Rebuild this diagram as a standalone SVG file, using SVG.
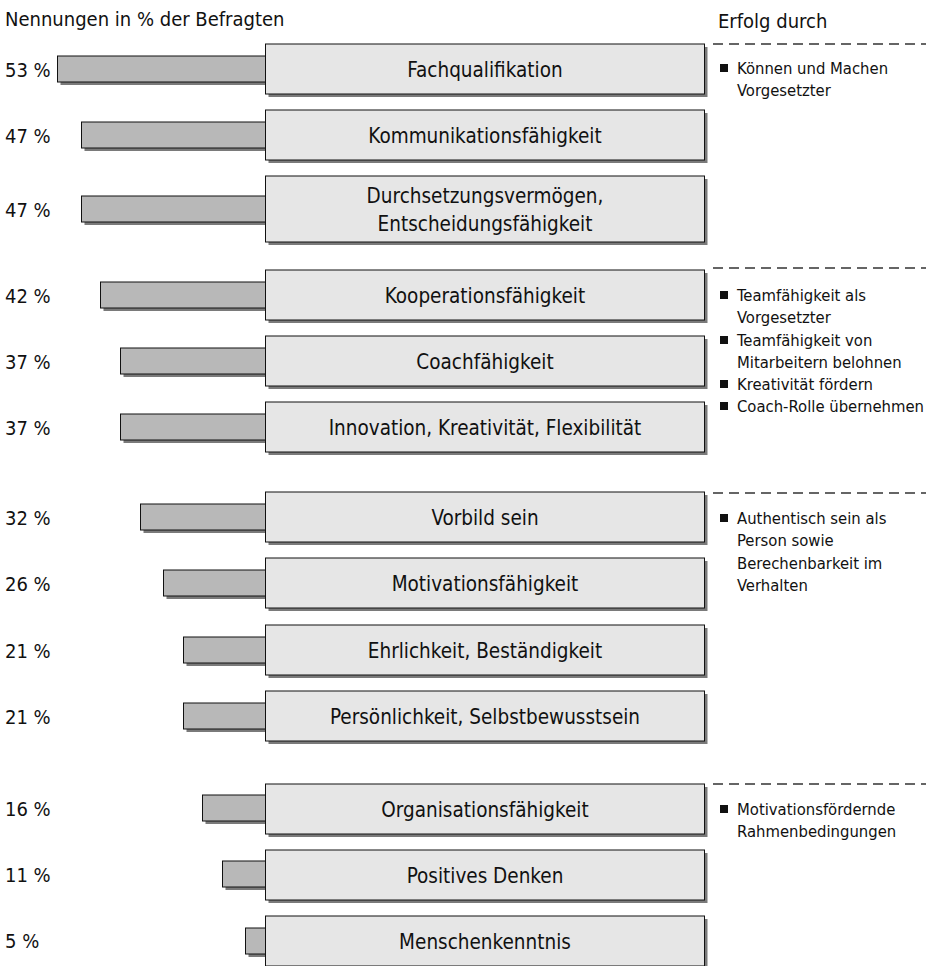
<svg xmlns="http://www.w3.org/2000/svg" width="926" height="966" viewBox="0 0 926 966">
  <style>
    text { font-family: "DejaVu Sans Condensed", "DejaVu Sans", sans-serif; fill: #111; }
    .hdr { font-size: 20px; }
    .pct { font-size: 20px; }
    .lbl { font-size: 20.5px; text-anchor: middle; }
    .note { font-size: 16.5px; }
    .box { fill: #e6e6e6; stroke: #111; stroke-width: 1; }
    .bar { fill: #b8b8b8; stroke: #111; stroke-width: 1; }
    .shd { fill: #7a7a7a; }
    .sep { stroke: #333; stroke-width: 1.5; stroke-dasharray: 10 6; fill: none; }
    .bul { fill: #111; }
  </style>
  <rect width="926" height="966" fill="#ffffff"/>

  <text class="hdr" x="5" y="26">Nennungen in % der Befragten</text>
  <text class="hdr" x="718" y="28">Erfolg durch</text>

  <!-- separators between groups of success factors -->
  <g id="connectors">
    <line class="sep" x1="713" y1="44" x2="926" y2="44"/>
    <line class="sep" x1="713" y1="268" x2="926" y2="268"/>
    <line class="sep" x1="713" y1="493" x2="926" y2="493"/>
    <line class="sep" x1="713" y1="784" x2="926" y2="784"/>
  </g>

  <!-- one row per skill: percentage, bar (3.92 px per %), label box -->
  <g id="n-fachqualifikation">
    <text class="pct" x="5" y="77">53 %</text>
    <rect class="shd" x="60.5" y="59" width="208" height="26"/>
    <rect class="bar" x="57.5" y="56" width="208" height="26"/>
    <rect class="shd" x="268.5" y="47" width="439" height="50"/>
    <rect class="box" x="265.5" y="44" width="439" height="50"/>
    <text class="lbl" x="485" y="77">Fachqualifikation</text>
  </g>
  <g id="n-kommunikation">
    <text class="pct" x="5" y="143">47 %</text>
    <rect class="shd" x="84.5" y="125" width="184" height="26"/>
    <rect class="bar" x="81.5" y="122" width="184" height="26"/>
    <rect class="shd" x="268.5" y="113" width="439" height="50"/>
    <rect class="box" x="265.5" y="110" width="439" height="50"/>
    <text class="lbl" x="485" y="143">Kommunikationsfähigkeit</text>
  </g>
  <g id="n-durchsetzung">
    <text class="pct" x="5" y="217">47 %</text>
    <rect class="shd" x="84.5" y="199" width="184" height="26"/>
    <rect class="bar" x="81.5" y="196" width="184" height="26"/>
    <rect class="shd" x="268.5" y="179" width="439" height="66"/>
    <rect class="box" x="265.5" y="176" width="439" height="66"/>
    <text class="lbl" x="485" y="203">Durchsetzungsvermögen,</text>
    <text class="lbl" x="485" y="231">Entscheidungsfähigkeit</text>
  </g>
  <g id="n-kooperation">
    <text class="pct" x="5" y="303">42 %</text>
    <rect class="shd" x="103.5" y="285" width="165" height="26"/>
    <rect class="bar" x="100.5" y="282" width="165" height="26"/>
    <rect class="shd" x="268.5" y="273" width="439" height="50"/>
    <rect class="box" x="265.5" y="270" width="439" height="50"/>
    <text class="lbl" x="485" y="303">Kooperationsfähigkeit</text>
  </g>
  <g id="n-coach">
    <text class="pct" x="5" y="369">37 %</text>
    <rect class="shd" x="123.5" y="351" width="145" height="26"/>
    <rect class="bar" x="120.5" y="348" width="145" height="26"/>
    <rect class="shd" x="268.5" y="339" width="439" height="50"/>
    <rect class="box" x="265.5" y="336" width="439" height="50"/>
    <text class="lbl" x="485" y="369">Coachfähigkeit</text>
  </g>
  <g id="n-innovation">
    <text class="pct" x="5" y="435">37 %</text>
    <rect class="shd" x="123.5" y="417" width="145" height="26"/>
    <rect class="bar" x="120.5" y="414" width="145" height="26"/>
    <rect class="shd" x="268.5" y="405" width="439" height="50"/>
    <rect class="box" x="265.5" y="402" width="439" height="50"/>
    <text class="lbl" x="485" y="435">Innovation, Kreativität, Flexibilität</text>
  </g>
  <g id="n-vorbild">
    <text class="pct" x="5" y="525">32 %</text>
    <rect class="shd" x="143.5" y="507" width="125" height="26"/>
    <rect class="bar" x="140.5" y="504" width="125" height="26"/>
    <rect class="shd" x="268.5" y="495" width="439" height="50"/>
    <rect class="box" x="265.5" y="492" width="439" height="50"/>
    <text class="lbl" x="485" y="525">Vorbild sein</text>
  </g>
  <g id="n-motivation">
    <text class="pct" x="5" y="591">26 %</text>
    <rect class="shd" x="166.5" y="573" width="102" height="26"/>
    <rect class="bar" x="163.5" y="570" width="102" height="26"/>
    <rect class="shd" x="268.5" y="561" width="439" height="50"/>
    <rect class="box" x="265.5" y="558" width="439" height="50"/>
    <text class="lbl" x="485" y="591">Motivationsfähigkeit</text>
  </g>
  <g id="n-ehrlichkeit">
    <text class="pct" x="5" y="658">21 %</text>
    <rect class="shd" x="186.5" y="640" width="82" height="26"/>
    <rect class="bar" x="183.5" y="637" width="82" height="26"/>
    <rect class="shd" x="268.5" y="628" width="439" height="50"/>
    <rect class="box" x="265.5" y="625" width="439" height="50"/>
    <text class="lbl" x="485" y="658">Ehrlichkeit, Beständigkeit</text>
  </g>
  <g id="n-persoenlichkeit">
    <text class="pct" x="5" y="724">21 %</text>
    <rect class="shd" x="186.5" y="706" width="82" height="26"/>
    <rect class="bar" x="183.5" y="703" width="82" height="26"/>
    <rect class="shd" x="268.5" y="694" width="439" height="50"/>
    <rect class="box" x="265.5" y="691" width="439" height="50"/>
    <text class="lbl" x="485" y="724">Persönlichkeit, Selbstbewusstsein</text>
  </g>
  <g id="n-organisation">
    <text class="pct" x="5" y="816">16 %</text>
    <rect class="shd" x="205.5" y="798" width="63" height="26"/>
    <rect class="bar" x="202.5" y="795" width="63" height="26"/>
    <rect class="shd" x="268.5" y="787" width="439" height="50"/>
    <rect class="box" x="265.5" y="784" width="439" height="50"/>
    <text class="lbl" x="485" y="817">Organisationsfähigkeit</text>
  </g>
  <g id="n-positiv">
    <text class="pct" x="5" y="882">11 %</text>
    <rect class="shd" x="225.5" y="864" width="43" height="26"/>
    <rect class="bar" x="222.5" y="861" width="43" height="26"/>
    <rect class="shd" x="268.5" y="853" width="439" height="50"/>
    <rect class="box" x="265.5" y="850" width="439" height="50"/>
    <text class="lbl" x="485" y="883">Positives Denken</text>
  </g>
  <g id="n-menschenkenntnis">
    <text class="pct" x="5" y="948">5 %</text>
    <rect class="shd" x="248.5" y="931" width="20" height="26"/>
    <rect class="bar" x="245.5" y="928" width="20" height="26"/>
    <rect class="shd" x="268.5" y="919" width="439" height="50"/>
    <rect class="box" x="265.5" y="916" width="439" height="50"/>
    <text class="lbl" x="485" y="949">Menschenkenntnis</text>
  </g>

  <!-- success factors per group -->
  <g id="n-erfolg-1">
    <rect class="bul" x="720" y="64" width="8" height="8"/>
    <text class="note" x="737" y="74">Können und Machen</text>
    <text class="note" x="737" y="96">Vorgesetzter</text>
  </g>
  <g id="n-erfolg-2">
    <rect class="bul" x="720" y="291" width="8" height="8"/>
    <text class="note" x="737" y="301">Teamfähigkeit als</text>
    <text class="note" x="737" y="323">Vorgesetzter</text>
    <rect class="bul" x="720" y="336" width="8" height="8"/>
    <text class="note" x="737" y="346">Teamfähigkeit von</text>
    <text class="note" x="737" y="368">Mitarbeitern belohnen</text>
    <rect class="bul" x="720" y="380" width="8" height="8"/>
    <text class="note" x="737" y="390">Kreativität fördern</text>
    <rect class="bul" x="720" y="402" width="8" height="8"/>
    <text class="note" x="737" y="412">Coach-Rolle übernehmen</text>
  </g>
  <g id="n-erfolg-3">
    <rect class="bul" x="720" y="514" width="8" height="8"/>
    <text class="note" x="737" y="524">Authentisch sein als</text>
    <text class="note" x="737" y="546">Person sowie</text>
    <text class="note" x="737" y="569">Berechenbarkeit im</text>
    <text class="note" x="737" y="591">Verhalten</text>
  </g>
  <g id="n-erfolg-4">
    <rect class="bul" x="720" y="805" width="8" height="8"/>
    <text class="note" x="737" y="815">Motivationsfördernde</text>
    <text class="note" x="737" y="837">Rahmenbedingungen</text>
  </g>
</svg>
